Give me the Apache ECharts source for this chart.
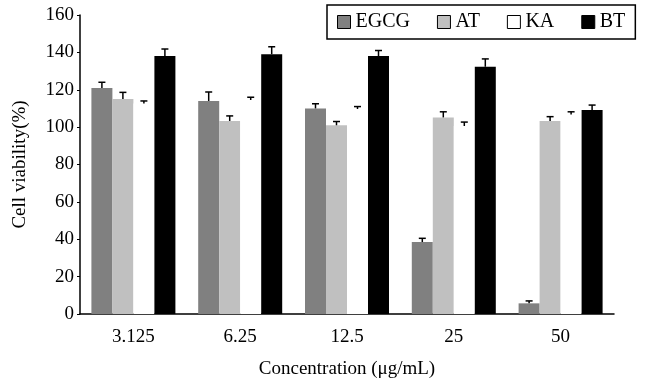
<!DOCTYPE html>
<html>
<head>
<meta charset="utf-8">
<script src="https://cdn.jsdelivr.net/npm/echarts@6/dist/echarts.min.js"></script>
<style>
html,body{margin:0;padding:0;background:#fff;}
#main{width:647px;height:387px;}
</style>
</head>
<body>
<div id="main"></div>
<script>
// 浓度分组
var categories = ['3.125', '6.25', '12.5', '25', '50'];
var seriesNames = ['EGCG', 'AT', 'KA', 'BT'];
// 细胞活力均值
var egcgVals = [121, 114, 110, 38.5, 5.7];
var atVals = [115, 103.3, 101, 105.2, 103.3];
var kaVals = [112.7, 114.5, 109.7, 100.6, 106.8];
var btVals = [138, 139, 138, 132.3, 109.1];
// 误差线上端
var egcgErr = [124, 118.8, 112.5, 40.5, 7];
var atErr = [118.6, 106, 103, 108.2, 105.6];
var kaErr = [114, 116, 111, 102.7, 108.2];
var btErr = [141.8, 143, 141, 136.5, 111.8];

var colors = ['#808080', '#c0c0c0', '#ffffff', '#000000'];
var valueSets = [egcgVals, atVals, kaVals, btVals];
var errSets = [egcgErr, atErr, kaErr, btErr];
var barW = 21;
var fontFam = '"Liberation Serif", "Times New Roman", serif';

var myChart = echarts.init(document.getElementById('main'));

var series = [];
for (var i = 0; i < 4; i++) {
	series.push({
		name: seriesNames[i],
		type: 'bar',
		barWidth: barW,
		barGap: '0%',
		itemStyle: { color: colors[i] },
		data: valueSets[i]
	});
}
// 误差线
for (var j = 0; j < 4; j++) {
	(function (k) {
		var d = [];
		for (var n = 0; n < categories.length; n++) {
			d.push([n, valueSets[k][n], errSets[k][n]]);
		}
		series.push({
			type: 'custom',
			silent: true,
			z: 5,
			renderItem: function (params, api) {
				var off = (k - 1.5) * barW;
				var p0 = api.coord([api.value(0), api.value(1)]);
				var p1 = api.coord([api.value(0), api.value(2)]);
				var x = p0[0] + off;
				return {
					type: 'group',
					children: [{
						type: 'line',
						shape: { x1: x, y1: p0[1], x2: x, y2: p1[1] },
						style: { stroke: '#000', lineWidth: 1.5 }
					}, {
						type: 'line',
						shape: { x1: x - 3.5, y1: p1[1], x2: x + 3.5, y2: p1[1] },
						style: { stroke: '#000', lineWidth: 1.5 }
					}]
				};
			},
			data: d
		});
	})(j);
}

var option = {
	animation: false,
	textStyle: { fontFamily: fontFam },
	legend: {
		left: 327,
		top: 5,
		padding: [7, 10, 7, 10],
		itemGap: 27,
		itemWidth: 13,
		itemHeight: 13,
		icon: 'rect',
		borderColor: '#000',
		borderWidth: 1.5,
		textStyle: { fontFamily: fontFam, fontSize: 20, color: '#000' },
		itemStyle: { borderColor: '#000', borderWidth: 1 },
		data: seriesNames
	},
	grid: { left: 80, right: 33, top: 15, bottom: 73 },
	xAxis: {
		type: 'category',
		data: categories,
		name: 'Concentration (μg/mL)',
		nameLocation: 'middle',
		nameGap: 46,
		nameTextStyle: { fontFamily: fontFam, fontSize: 19, color: '#000' },
		axisLine: { lineStyle: { color: '#000', width: 1.5 } },
		axisTick: { inside: true, length: 4, lineStyle: { color: '#000' } },
		axisLabel: { fontFamily: fontFam, fontSize: 19, color: '#000', margin: 14 }
	},
	yAxis: {
		type: 'value',
		min: 0,
		max: 160,
		interval: 20,
		name: 'Cell viability(%)',
		nameLocation: 'middle',
		nameGap: 50,
		nameTextStyle: { fontFamily: fontFam, fontSize: 19, color: '#000' },
		axisLine: { show: true, lineStyle: { color: '#000', width: 1.5 } },
		axisTick: { show: true, length: 3, lineStyle: { color: '#000' } },
		splitLine: { show: false },
		axisLabel: { fontFamily: fontFam, fontSize: 19, color: '#000', margin: 6 }
	},
	series: series
};
myChart.setOption(option);
</script>
</body>
</html>
